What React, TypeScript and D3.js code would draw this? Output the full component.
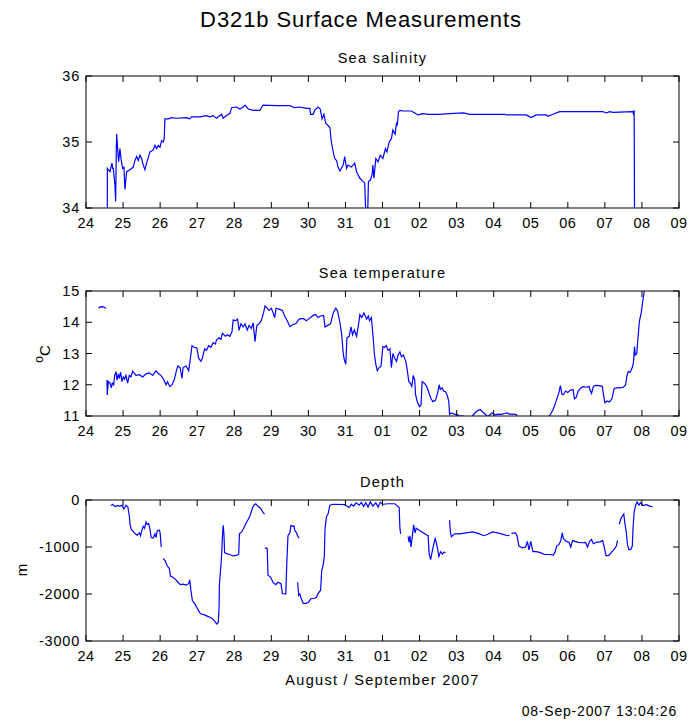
import React from "react";
import * as d3 from "d3";

// Time axis: days since 24 Aug 2007 00:00
const dayTickLabels = ["24", "25", "26", "27", "28", "29", "30", "31", "01", "02", "03", "04", "05", "06", "07", "08", "09"];

// Sea salinity (null = gap)
const salinityDay = [
  0.575, 0.576, 0.6, 0.647, 0.674, 0.7, 0.72, 0.737, 0.78, 0.8, 0.818, 0.827, 0.854, 0.88, 0.916, 0.943, 0.988, 1.024, 1.05, 1.096,
  1.186, 1.276, 1.32, 1.366, 1.41, 1.456, 1.5, 1.545, 1.59, 1.635, 1.725, 1.815, 1.86, 1.905, 1.95, 1.995, 2.04, 2.085, 2.11, 2.13,
  2.22, 2.31, 2.44, 2.71, 2.8, 2.85, 3.07, 3.25, 3.34, 3.43, 3.52, 3.66, 3.7, 3.79, 3.88, 3.93, 4.06, 4.15, 4.24, 4.29, 4.38, 4.51,
  4.69, 4.78, 5.14, 5.5, 5.63, 5.77, 5.95, 6.04, 6.06, 6.13, 6.17, 6.26, 6.32, 6.37, 6.42, 6.47, 6.53, 6.58, 6.62, 6.67, 6.71, 6.76,
  6.8, 6.85, 6.94, 6.98, 7.03, 7.07, 7.16, 7.25, 7.3, 7.39, 7.48, 7.52, 7.55, 7.6, 7.62, 7.67, 7.72, 7.74, 7.77, 7.82, 7.88, 7.94,
  8.01, 8.08, 8.12, 8.18, 8.24, 8.28, 8.34, 8.38, 8.4, 8.43, 8.47, 8.56, 8.78, 8.87, 8.96, 9.09, 9.23, 9.54, 9.81, 10.19, 10.35,
  10.89, 11.3, 11.34, 11.88, 12.01, 12.15, 12.42, 12.46, 12.6, 12.78, 13.95, 14.04, 14.13, 14.22, 14.75, 14.77, 14.79, 14.8,
];
const salinityValue = [
  33.9, 34.6, 34.58, 34.55, 34.62, 34.68, 34.6, 34.6, 34.35, 34.1, 34.9, 35.12, 34.9, 34.7, 34.9, 34.75, 34.6, 34.62, 34.28, 34.55,
  34.58, 34.62, 34.72, 34.78, 34.72, 34.8, 34.75, 34.65, 34.58, 34.68, 34.85, 34.88, 34.95, 34.9, 34.95, 34.92, 35.02, 35.0, 35.05, 35.35,
  35.35, 35.37, 35.36, 35.37, 35.35, 35.38, 35.38, 35.4, 35.38, 35.4, 35.36, 35.42, 35.36, 35.4, 35.43, 35.52, 35.53, 35.5, 35.53, 35.56, 35.5, 35.48,
  35.48, 35.56, 35.55, 35.55, 35.52, 35.53, 35.51, 35.51, 35.42, 35.42, 35.48, 35.53, 35.5, 35.35, 35.42, 35.28, 35.25, 35.22, 35.0, 34.85, 34.75, 34.72,
  34.62, 34.56, 34.65, 34.78, 34.6, 34.65, 34.62, 34.68, 34.55, 34.45, 34.4, 34.38, 33.9, 33.9, 34.4, 34.42, 34.5, 34.65, 34.45, 34.75, 34.7, 34.8,
  34.75, 34.9, 34.85, 35.0, 35.05, 35.18, 35.12, 35.3, 35.25, 35.46, 35.48, 35.47, 35.47, 35.44, 35.41, 35.43, 35.42, 35.42, 35.43, 35.44, 35.42,
  35.42, 35.42, 35.41, 35.41, 35.37, 35.41, 35.41, 35.39, 35.42, 35.46, 35.46, 35.44, 35.46, 35.45, 35.46, 35.43, 35.48, 33.9,
];

// Sea temperature, degC (null = gap)
const temperatureDay = [
  0.34, 0.38, 0.45, 0.5, 0.54, 0.555,
  0.566, 0.575, 0.6, 0.647, 0.683, 0.71, 0.746, 0.773, 0.809, 0.836, 0.872, 0.898, 0.934, 0.97, 1.006, 1.04, 1.078, 1.123, 1.168, 1.213,
  1.258, 1.35, 1.44, 1.53, 1.62, 1.71, 1.8, 1.89, 1.96, 2.02, 2.08, 2.16, 2.2, 2.26, 2.32, 2.38, 2.44, 2.48, 2.54, 2.59, 2.62, 2.7,
  2.77, 2.8, 2.86, 2.92, 2.99, 3.04, 3.1, 3.14, 3.2, 3.25, 3.31, 3.37, 3.43, 3.49, 3.52, 3.59, 3.64, 3.68, 3.76, 3.82, 3.88, 3.94,
  3.97, 4.04, 4.09, 4.13, 4.18, 4.24, 4.29, 4.35, 4.4, 4.46, 4.51, 4.56, 4.61, 4.67, 4.73, 4.79, 4.83, 4.89, 4.94, 5.0, 5.05, 5.09,
  5.13, 5.21, 5.3, 5.36, 5.43, 5.5, 5.57, 5.66, 5.75, 5.86, 5.95, 6.0, 6.06, 6.13, 6.2, 6.26, 6.33, 6.41, 6.45, 6.52, 6.6, 6.67,
  6.74, 6.79, 6.85, 6.9, 6.94, 6.97, 7.01, 7.04, 7.1, 7.15, 7.19, 7.24, 7.3, 7.35, 7.39, 7.44, 7.5, 7.57, 7.62, 7.65, 7.7, 7.745,
  7.78, 7.82, 7.86, 7.91, 7.96, 8.01, 8.06, 8.1, 8.15, 8.2, 8.24, 8.28, 8.33, 8.38, 8.42, 8.47, 8.51, 8.56, 8.63, 8.67, 8.71, 8.75,
  8.79, 8.83, 8.87, 8.89, 8.94, 9.0, 9.04, 9.07, 9.13, 9.19, 9.25, 9.31, 9.36, 9.43, 9.49, 9.53, 9.56, 9.61, 9.65, 9.7, 9.75, 9.79,
  9.81, 9.85, 9.9, 9.95, 10.01, 10.08, 10.19, 10.26, 10.4, 10.44, 10.51, 10.58, 10.64, 10.71, 10.78, 10.84, 10.91, 10.96, 11.03, 11.12,
  11.2, 11.3, 11.36, 11.43, 11.52, 11.61, 11.66, 11.88, 12.23, 12.46, 12.53, 12.6, 12.65, 12.71, 12.76, 12.8, 12.84, 12.88, 12.94, 13.0,
  13.06, 13.14, 13.18, 13.23, 13.28, 13.35, 13.42, 13.5, 13.57, 13.61, 13.64, 13.69, 13.75, 13.84, 13.93, 13.96, 14.0, 14.06, 14.12, 14.19,
  14.25, 14.32, 14.41, 14.5, 14.56, 14.59, 14.63, 14.68, 14.74, 14.77, 14.8, 14.82, 14.86, 14.9, 14.93, 14.98, 15.02, 15.07, 15.11,
];
const temperatureValue = [
  14.45, 14.49, 14.5, 14.47, 14.44, null,
  12.15, 11.67, 12.1, 12.05, 11.9, 12.05, 12.0, 12.3, 12.42, 12.15, 12.35, 12.2, 12.4, 12.1, 12.25, 12.18, 12.3, 12.05, 12.3, 12.25,
  12.44, 12.3, 12.32, 12.25, 12.35, 12.38, 12.3, 12.45, 12.35, 12.3, 12.2, 12.0, 12.1, 11.94, 12.0, 12.15, 12.45, 12.6, 12.55, 12.2, 12.55, 12.6,
  12.45, 12.7, 13.25, 13.2, 13.18, 12.85, 12.75, 12.85, 13.15, 13.1, 13.25, 13.2, 13.35, 13.3, 13.43, 13.5, 13.45, 13.65, 13.55, 13.6, 13.55, 13.7,
  14.07, 14.05, 14.1, 13.74, 13.95, 13.85, 13.95, 13.75, 13.9, 13.8, 13.98, 13.38, 13.9, 13.95, 14.05, 14.3, 14.52, 14.45, 14.38, 14.45, 14.3, 14.15,
  14.45, 14.42, 14.38, 14.2, 14.05, 13.86, 13.92, 13.95, 14.1, 14.12, 14.05, 14.1, 14.15, 14.22, 14.25, 14.15, 14.2, 14.22, 13.85, 13.9, 13.95, 14.3,
  14.45, 14.35, 14.0, 13.6, 13.0, 12.8, 12.65, 13.5, 13.55, 13.85, 13.6, 13.75, 13.55, 13.9, 14.25, 14.15, 14.3, 14.1, 14.2, 14.05, 14.15, 13.55,
  13.0, 12.65, 12.45, 12.55, 12.6, 13.22, 13.2, 13.25, 13.1, 13.15, 12.55, 13.0, 12.85, 12.75, 12.95, 13.05, 12.9, 12.95, 12.75, 12.45, 12.1, 12.05,
  11.95, 12.3, 12.15, 11.7, 11.45, 11.3, 11.35, 12.1, 12.05, 11.95, 11.75, 11.55, 11.46, 11.5, 11.75, 12.0, 11.85, 11.9, 11.8, 11.78, 11.65, 11.45,
  11.05, 11.1, 11.08, 11.05, 11.05, 11.0, 11.0, 10.9, 10.9, 11.02, 11.12, 11.18, 11.2, 11.12, 11.05, 10.98, 11.05, 11.1, 11.04, 11.06,
  11.05, 11.08, 11.1, 11.06, 11.06, 11.05, 10.9, 10.8, 10.8, 10.9, 11.05, 11.2, 11.35, 11.57, 11.75, 11.97, 11.7, 11.68, 11.8, 11.75,
  11.82, 11.85, 11.55, 11.6, 11.8, 11.9, 11.94, 11.92, 11.95, 11.8, 11.72, 11.95, 11.98, 11.97, 11.95, 11.7, 11.42, 11.48, 11.45, 11.55,
  11.88, 11.9, 11.9, 11.92, 12.0, 12.25, 12.42, 12.4, 12.55, 12.7, 13.22, 12.95, 13.0, 13.59, 14.02, 14.3, 14.66, 15.05, 15.3,
];

// Depth, m (null = gap)
const depthDay = [
  0.674, 0.72, 0.78, 0.845, 0.916, 0.97, 1.024, 1.08, 1.13, 1.17, 1.19, 1.22, 1.28, 1.33, 1.38, 1.44, 1.47, 1.51, 1.545, 1.58, 1.62,
  1.65, 1.69, 1.725, 1.76, 1.815, 1.86, 1.89, 1.92, 1.98, 2.0, 2.03, 2.055,
  2.08, 2.14, 2.19, 2.25, 2.28, 2.35, 2.43, 2.49, 2.55, 2.62, 2.7, 2.77, 2.8, 2.83, 2.87, 2.93, 2.98, 3.04, 3.09, 3.18, 3.27, 3.36,
  3.43, 3.49, 3.53, 3.57, 3.59, 3.6, 3.63, 3.66, 3.68, 3.7, 3.72, 3.74, 3.79, 3.88, 3.97, 4.06, 4.12, 4.14, 4.2, 4.26, 4.33, 4.4,
  4.44, 4.49, 4.53, 4.58, 4.62, 4.67, 4.73, 4.78, 4.82, 4.821,
  4.822, 4.89, 4.91, 4.98, 5.05, 5.12, 5.18, 5.26, 5.3, 5.39, 5.42, 5.45, 5.5, 5.53, 5.57, 5.61, 5.63, 5.68, 5.72, 5.75, 5.751,
  5.71, 5.74, 5.77, 5.8, 5.86, 5.93, 6.0, 6.07, 6.16, 6.22, 6.26, 6.33, 6.36, 6.4, 6.43, 6.45, 6.49, 6.53, 6.58, 6.67, 6.98,
  7.03, 7.1, 7.16, 7.22, 7.29, 7.37, 7.43, 7.49, 7.55, 7.61, 7.67, 7.74, 7.82, 7.88, 7.94, 8.02, 8.15, 8.33, 8.39, 8.45, 8.47, 8.49, 8.6,
  8.69, 8.72, 8.74, 8.77, 8.8, 8.84, 8.88, 8.91, 9.0, 9.09, 9.18, 9.23, 9.26, 9.3, 9.34, 9.38, 9.42, 9.45, 9.49, 9.52, 9.57, 9.62,
  9.66, 9.7, 9.75,
  9.81, 9.83, 9.86, 9.95, 10.08, 10.26, 10.44, 10.62, 10.73, 10.84, 10.97, 11.11, 11.25, 11.37, 11.43, 11.455,
  11.48, 11.59, 11.63, 11.68, 11.77, 11.86, 11.91, 11.95, 12.0, 12.06, 12.15, 12.26, 12.37, 12.51, 12.61, 12.66, 12.7, 12.76, 12.81,
  12.85, 12.88, 12.96, 13.03, 13.08, 13.13, 13.19, 13.28, 13.39, 13.48, 13.53, 13.59, 13.64, 13.69, 13.78, 13.87, 13.94, 13.99, 14.03,
  14.11, 14.18, 14.25, 14.31, 14.34, 14.365,
  14.39, 14.43, 14.47, 14.51, 14.54, 14.58, 14.61, 14.65, 14.7, 14.74, 14.76, 14.79, 14.83, 14.87, 14.92, 14.96, 15.03, 15.12, 15.21, 15.29,
];
const depthValue = [
  -120, -90, -140, -120, -130, -110, -190, -110, -150, -350, -530, -620, -680, -720, -750, -700, -760, -640, -560, -600, -470,
  -520, -500, -620, -800, -810, -720, -800, -660, -640, -700, -1000, null,
  -1240, -1300, -1400, -1460, -1620, -1650, -1700, -1760, -1800, -1790, -1810, -1780, -1700, -1920, -2140, -2200, -2270, -2360, -2420, -2440, -2470, -2500,
  -2540, -2600, -2640, -2600, -2300, -1800, -1500, -1170, -780, -540, -700, -1120, -1140, -1160, -1190, -1180, -1150, -720, -680, -590, -480, -380,
  -300, -170, -110, -80, -120, -150, -200, -270, -300, null,
  -1020, -1030, -1600, -1640, -1760, -1800, -1750, -1780, -1990, -2000, -1300, -760, -700, -540, -560, -550, -640, -700, -780, -810, null,
  -1750, -2030, -2000, -2080, -2200, -2200, -2180, -2100, -2090, -2070, -1990, -1920, -1500, -1380, -1200, -600, -350, -300, -110, -90, -100,
  -120, -160, -90, -130, -60, -110, -50, -140, -60, -150, -40, -130, -60, -150, -50, -90, -80, -80, -120, -160, -600, -720, null,
  -780, -900, -760, -1000, -800, -530, -700, -600, -650, -690, -740, -760, -1150, -1270, -1100, -950, -820, -900, -1050, -1200, -1100, -1150,
  -1110, -1120, null,
  -430, -680, -780, -720, -720, -700, -680, -720, -760, -730, -680, -700, -730, -760, -750, null,
  -710, -700, -760, -980, -1020, -1000, -880, -1060, -880, -1100, -1100, -1120, -1160, -1160, -1170, -1100, -980, -950, -870,
  -700, -820, -880, -900, -1000, -860, -880, -900, -910, -900, -1000, -880, -840, -930, -900, -890, -860, -1030, -1190,
  -1180, -1110, -1050, -980, -860, null,
  -520, -400, -340, -300, -500, -700, -950, -1060, -1050, -980, -600, -250, -120, -40, -110, -60, -120, -100, -130, -150,
];

const salinityTicks = [34, 35, 36];
const temperatureTicks = [11, 12, 13, 14, 15];
const depthTicks = [-3000, -2000, -1000, 0];

const FONT = "'Liberation Sans', Arial, Helvetica, sans-serif";
const LINE = "#0000ff";
const X0 = 86;
const X1 = 679;
const TICK = 6;
const LABEL_SPACING = 1.3;

const x = d3.scaleLinear().domain([0, 16]).range([X0, X1]);

type PanelProps = {
  id: string;
  title: string;
  top: number;
  bottom: number;
  domain: [number, number];
  ticks: number[];
  days: number[];
  values: (number | null)[];
  ylabel?: React.ReactNode;
};

function Panel({ id, title, top, bottom, domain, ticks, days, values, ylabel }: PanelProps) {
  const y = d3.scaleLinear().domain(domain).range([bottom, top]);
  const pts = days.map((d, i) => [d, values[i]] as [number, number | null]);
  const line = d3
    .line<[number, number | null]>()
    .defined((p) => p[1] !== null)
    .x((p) => x(p[0]))
    .y((p) => y(p[1] as number));
  const dayTicks = d3.range(0, 17);
  return (
    <g>
      <defs>
        <clipPath id={id}>
          <rect x={X0} y={top} width={X1 - X0} height={bottom - top} />
        </clipPath>
      </defs>
      <path d={line(pts) || ""} fill="none" stroke={LINE} strokeWidth={1.2} clipPath={`url(#${id})`} />
      <rect x={X0} y={top} width={X1 - X0} height={bottom - top} fill="none" stroke="#000" strokeWidth={1} />
      {dayTicks.map((t) => (
        <g key={`x${t}`}>
          <line x1={x(t)} x2={x(t)} y1={bottom} y2={bottom - TICK} stroke="#000" />
          <line x1={x(t)} x2={x(t)} y1={top} y2={top + TICK} stroke="#000" />
          <text x={x(t)} y={bottom + 20} textAnchor="middle" fontSize={14.5} letterSpacing={0.4}>
            {dayTickLabels[t]}
          </text>
        </g>
      ))}
      {ticks.map((t) => (
        <g key={`y${t}`}>
          <line x1={X0} x2={X0 + TICK} y1={y(t)} y2={y(t)} stroke="#000" />
          <line x1={X1} x2={X1 - TICK} y1={y(t)} y2={y(t)} stroke="#000" />
          <text x={80} y={y(t) + 5} textAnchor="end" fontSize={14.5} letterSpacing={0.8}>
            {t}
          </text>
        </g>
      ))}
      <text x={(X0 + X1) / 2} y={top - 13} textAnchor="middle" fontSize={14.5} letterSpacing={LABEL_SPACING}>
        {title}
      </text>
      {ylabel}
    </g>
  );
}

export default function App() {
  return (
    <svg width={691} height={721} style={{ position: "absolute", left: 0, top: 0, background: "#fff" }} fontFamily={FONT}>
      <rect width={691} height={721} fill="#fff" />
      <text x={361} y={27} textAnchor="middle" fontSize={22} letterSpacing={0.9}>
        D321b Surface Measurements
      </text>
      <Panel
        id="clip-sal"
        title="Sea salinity"
        top={76}
        bottom={208}
        domain={[34, 36]}
        ticks={salinityTicks}
        days={salinityDay}
        values={salinityValue}
      />
      <Panel
        id="clip-temp"
        title="Sea temperature"
        top={291}
        bottom={416}
        domain={[11, 15]}
        ticks={temperatureTicks}
        days={temperatureDay}
        values={temperatureValue}
        ylabel={
          <text transform="translate(50,354) rotate(-90)" textAnchor="middle" fontSize={15}>
            <tspan fontSize={12} dy={-7}>o</tspan>
            <tspan dy={7}>C</tspan>
          </text>
        }
      />
      <Panel
        id="clip-depth"
        title="Depth"
        top={500}
        bottom={641}
        domain={[-3000, 0]}
        ticks={depthTicks}
        days={depthDay}
        values={depthValue}
        ylabel={
          <text transform="translate(27,570) rotate(-90)" textAnchor="middle" fontSize={15}>
            m
          </text>
        }
      />
      <text x={(X0 + X1) / 2} y={685} textAnchor="middle" fontSize={14.5} letterSpacing={LABEL_SPACING}>
        August / September 2007
      </text>
      <text x={677} y={716} textAnchor="end" fontSize={14} letterSpacing={0.8}>
        08-Sep-2007 13:04:26
      </text>
    </svg>
  );
}
